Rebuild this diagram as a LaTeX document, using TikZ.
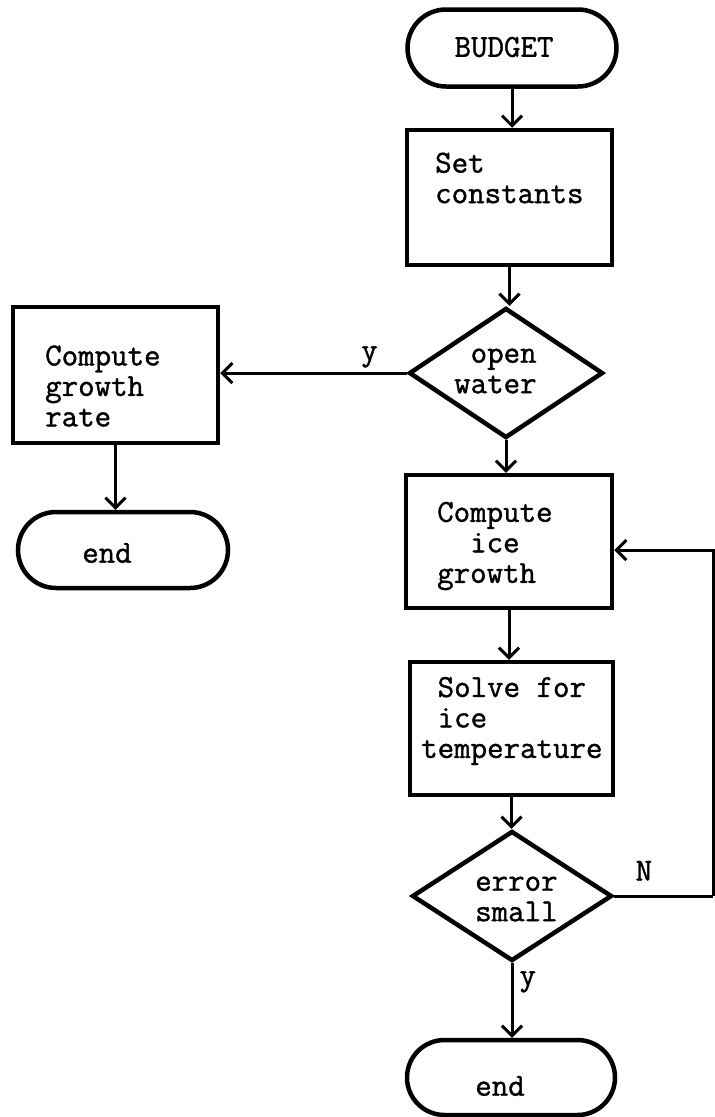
\documentclass[tikz,border=0pt]{standalone}
\usepackage{fontspec}
\newfontfamily\flowtt{Latin Modern Mono}[FakeBold=1.2]
\usetikzlibrary{arrows.meta,shapes.geometric,shapes.misc}
\begin{document}
\begin{tikzpicture}[x=1pt,y=-1pt,
  box/.style={draw, line width=4.5pt, inner sep=0pt},
  term/.style={rounded rectangle, draw, line width=4.5pt, inner sep=0pt},
  dec/.style={diamond, draw, line width=4.5pt, inner sep=0pt},
  txt/.style={font=\flowtt\bfseries\fontsize{32}{30.5}\selectfont, align=left, inner sep=0pt},
  flow/.style={line width=3pt, line join=miter,
    -{Straight Barb[length=10pt,width=20pt,line width=3pt]}},
  link/.style={line width=3pt, line join=miter}]
\useasboundingbox (0,0) rectangle (715,1117);

% shapes of the main column
\node[term, minimum width=209pt, minimum height=77pt] (budget) at (512,48) {};
\node[box, minimum width=205pt, minimum height=135pt] (setc) at (509.5,197.5) {};
\node[dec, minimum width=194pt, minimum height=130pt] (ow) at (506,373) {};
\node[box, minimum width=206pt, minimum height=133pt] (cig) at (509,541.5) {};
\node[box, minimum width=203pt, minimum height=133pt] (sit) at (511.5,728.5) {};
\node[dec, minimum width=200pt, minimum height=130pt] (es) at (512,896) {};
\node[term, minimum width=208pt, minimum height=75pt] (endB) at (511,1077.5) {};

% open-water branch
\node[box, minimum width=205pt, minimum height=136pt] (cgr) at (115.5,375) {};
\node[term, minimum width=210pt, minimum height=76pt] (endL) at (123,550) {};

% texts
\node[txt] (tBudget) at (504,47) {BUDGET};
\node[txt, anchor=west] (tSet) at (435,178) {Set\\constants};
\node[txt, anchor=west] (tOpen) at (454,371) {\phantom{w}open\\water};
\node[txt, anchor=west] (tCgr) at (45,386) {Compute\\growth\\rate};
\node[txt] (tEndL) at (107,553) {end};
\node[txt, anchor=west] (tCig) at (437,546) {Compute\\\phantom{xx}ice\\growth};
\node[txt, anchor=west] (tSit) at (421,721) {\phantom{x}Solve for\\\phantom{x}ice\\temperature};
\node[txt, anchor=west] (tEs) at (475,899) {error\\small};
\node[txt] (tEndB) at (500,1086) {end};

% connectors
\draw[flow] (budget.south) -- (budget.south |- setc.north);
\draw[flow] (setc.south) -- (setc.south |- ow.north);
\draw[flow] (ow.west) -- (ow.west -| cgr.east)
  node[txt, pos=0.2, above=4pt] (lY1) {y};
\draw[flow] (cgr.south) -- (cgr.south |- endL.north);
\draw[flow] (ow.south) -- (ow.south |- cig.north);
\draw[flow] (cig.south) -- (cig.south |- sit.north);
\draw[flow] (sit.south) -- (sit.south |- es.north);
\draw[flow] (es.south) -- (es.south |- endB.north)
  node[txt, pos=0.25, right=6pt] (lY2) {y};
\coordinate (loopB) at (713,896);
\coordinate (loopT) at (713,550);
\draw[link] (es.east) -- (loopB)
  node[txt, pos=0.3, above=14pt] (lN) {N};
\draw[flow] (loopB) -- (loopT) -- (loopT -| cig.east);
\end{tikzpicture}
\end{document}
